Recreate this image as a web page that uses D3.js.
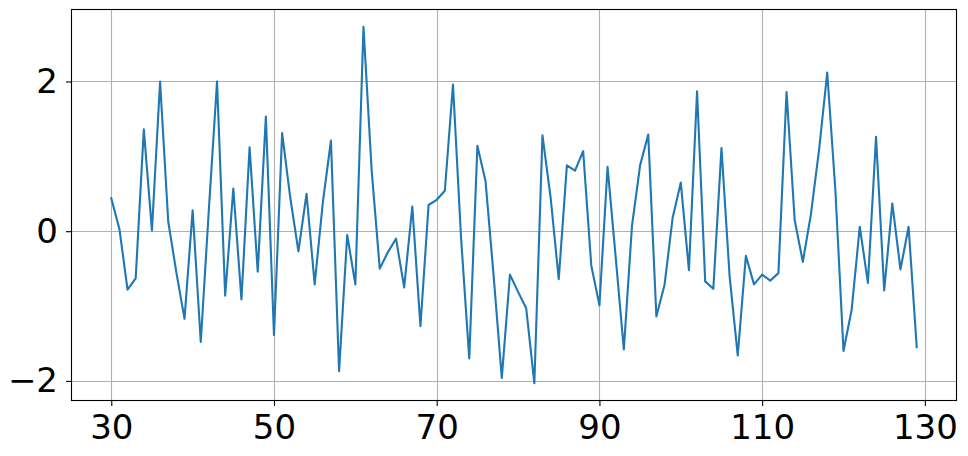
<!DOCTYPE html>
<html><head><meta charset="utf-8">
<script src="https://cdn.jsdelivr.net/npm/d3@7"></script>
<style>body{margin:0;background:#fff}svg{display:block}</style>
</head><body>
<svg id="c" width="968" height="456"></svg>
<script>
const xStart = 30;
const values = [
 0.44, 0.03, -0.78, -0.63, 1.36, 0.01, 2.0, 0.13, -0.55, -1.17,
 0.28, -1.48, 0.3, 2.0, -0.86, 0.57, -0.91, 1.12, -0.54, 1.53,
 -1.39, 1.31, 0.45, -0.27, 0.5, -0.71, 0.38, 1.21, -1.87, -0.05,
 -0.71, 2.73, 0.82, -0.5, -0.28, -0.1, -0.75, 0.33, -1.27, 0.35,
 0.42, 0.54, 1.96, -0.1, -1.7, 1.14, 0.67, -0.6, -1.96, -0.58,
 -0.81, -1.03, -2.03, 1.28, 0.45, -0.64, 0.88, 0.81, 1.07, -0.46,
 -0.99, 0.86, -0.35, -1.58, 0.07, 0.88, 1.29, -1.14, -0.72, 0.18,
 0.65, -0.52, 1.87, -0.67, -0.77, 1.11, -0.6, -1.66, -0.33, -0.71,
 -0.58, -0.66, -0.56, 1.86, 0.15, -0.41, 0.23, 1.09, 2.12, 0.55,
 -1.6, -1.05, 0.06, -0.69, 1.26, -0.79, 0.37, -0.51, 0.06, -1.55
];
const xTicks = [30, 50, 70, 90, 110, 130];
const yTicks = [-2, 0, 2];

const data = values.map((v, i) => ({x: xStart + i, y: v}));
const svg = d3.select("#c");
const L = 71, R = 957, T = 9, B = 401;
const xExt = d3.extent(data, d => d.x), yExt = d3.extent(data, d => d.y);
const xp = (xExt[1] - xExt[0]) * 0.05, yp = (yExt[1] - yExt[0]) * 0.05;
const x = d3.scaleLinear().domain([xExt[0] - xp, xExt[1] + xp]).range([L, R]);
const y = d3.scaleLinear().domain([yExt[0] - yp, yExt[1] + yp]).range([B, T]);

const g = svg.append("g");
// grid
g.selectAll(".gx").data(xTicks).enter().append("line")
  .attr("x1", d => Math.round(x(d)) + 0.5).attr("x2", d => Math.round(x(d)) + 0.5)
  .attr("y1", T).attr("y2", B).attr("stroke", "#b0b0b0").attr("stroke-width", 1.1);
g.selectAll(".gy").data(yTicks).enter().append("line")
  .attr("y1", d => Math.round(y(d)) + 0.5).attr("y2", d => Math.round(y(d)) + 0.5)
  .attr("x1", L).attr("x2", R).attr("stroke", "#b0b0b0").attr("stroke-width", 1.1);

// line
g.append("path").datum(data)
  .attr("d", d3.line().x(d => x(d.x)).y(d => y(d.y)))
  .attr("fill", "none").attr("stroke", "#1f77b4").attr("stroke-width", 2.1)
  .attr("stroke-linejoin", "round").attr("stroke-linecap", "square");

// frame
g.append("rect").attr("x", L + 0.5).attr("y", T + 0.5).attr("width", R - L - 1).attr("height", B - T - 1)
  .attr("fill", "none").attr("stroke", "#000").attr("stroke-width", 1.1);

const fmt = d => d < 0 ? "\u2212" + Math.abs(d) : String(d);
const xa = svg.append("g").attr("transform", `translate(0,${B})`)
  .call(d3.axisBottom(x).tickValues(xTicks).tickSize(5).tickPadding(9).tickFormat(fmt));
const ya = svg.append("g").attr("transform", `translate(${L},0)`)
  .call(d3.axisLeft(y).tickValues(yTicks).tickSize(5).tickPadding(8).tickFormat(fmt));
[xa, ya].forEach(a => {
  a.select(".domain").remove();
  a.selectAll("line").attr("stroke", "#000").attr("stroke-width", 1.1);
  a.selectAll("text").attr("fill", "#000").style("font-family", "DejaVu Sans")
   .style("font-size", "34px");
});
</script>
</body></html>
